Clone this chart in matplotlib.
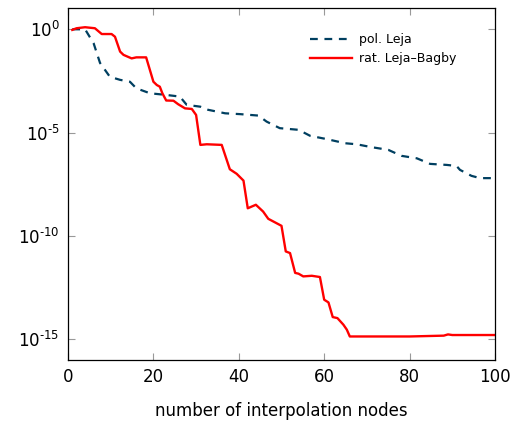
import numpy as np
import matplotlib
matplotlib.use('Agg')
import matplotlib.pyplot as plt

# error vs number of nodes (log10 of error)
pol_n = [1, 4, 6, 7.5, 9.8, 12.2, 14.5, 16, 19.2, 23, 26.2, 27.8, 31, 32.8, 36.8, 40.3,
         44.6, 46.5, 49.6, 54, 56.7, 60.6, 64.9, 67.6, 71.1, 75, 78.1, 81.7, 84.8,
         88.7, 91, 91.8, 94.5, 96.5, 100]
pol_log = [0, 0, -0.68, -1.63, -2.3, -2.45, -2.54, -2.86, -3.1, -3.18, -3.26, -3.66, -3.75,
           -3.9, -4.07, -4.11, -4.18, -4.47, -4.79, -4.87, -5.16, -5.32, -5.52, -5.57,
           -5.71, -5.84, -6.13, -6.25, -6.52, -6.57, -6.62, -6.81, -7.1, -7.21, -7.21]

rat_n = [1, 2, 4, 6.3, 7.9, 10.2, 11, 12.2, 13, 14.9, 16, 18.3, 20, 20.8, 21.5, 22.1, 23,
         24.7, 25.8, 27.4, 29, 30, 31, 32.5, 36, 37.9, 39.5, 41.1, 42.1, 44, 45.7, 46.9,
         50, 51, 52, 53.2, 54, 55.1, 57.1, 59, 60, 61, 62, 63.1, 64.5, 65.3, 66, 80, 88,
         89, 90, 100]
rat_log = [-0.03, 0.05, 0.1, 0.05, -0.23, -0.23, -0.36, -1.08, -1.24, -1.41, -1.36, -1.36,
           -2.54, -2.7, -2.78, -3.1, -3.45, -3.46, -3.63, -3.83, -3.86, -4.15, -5.6, -5.57,
           -5.6, -6.78, -7.0, -7.33, -8.67, -8.5, -8.83, -9.18, -9.52, -10.76, -10.84,
           -11.8, -11.84, -11.97, -11.94, -12.0, -13.1, -13.23, -13.94, -13.99, -14.31,
           -14.55, -14.88, -14.88, -14.84, -14.78, -14.81, -14.81]

ytick_exp = [0, -5, -10, -15]

blue = '#003f60'

fig = plt.figure(figsize=(5.14, 4.22), dpi=100)
ax = fig.add_axes([0.1323, 0.1469, 0.8307, 0.8341])

ax.semilogy(pol_n, 10.0**np.array(pol_log), color=blue, lw=1.6, ls=(0, (3.5, 3)),
            label='pol. Leja')
ax.semilogy(rat_n, 10.0**np.array(rat_log), color='red', lw=1.7, label='rat. Leja–Bagby')

ax.set_xlim(0, 100)
ax.set_ylim(10**-16.02, 10**1.03)
ax.set_xticks([0, 20, 40, 60, 80, 100])
ax.set_yticks([10.0**e for e in ytick_exp])
ax.set_yticklabels(['$10^{%s}$' % (str(e).replace('-', r'\text{-}')) for e in ytick_exp])
ax.minorticks_off()
ax.tick_params(direction='in', length=5, width=0.8, color='#999999', top=True, right=True,
               labelsize=12, pad=6)
for s in ax.spines.values():
    s.set_linewidth(0.9)

ax.set_xlabel('number of interpolation nodes', fontsize=12, labelpad=11)

ax.legend(loc='upper right', frameon=False, fontsize=9, handlelength=3.4,
          handletextpad=0.5, labelspacing=0.45, bbox_to_anchor=(0.935, 0.96))

fig.savefig('out.png', dpi=100)
